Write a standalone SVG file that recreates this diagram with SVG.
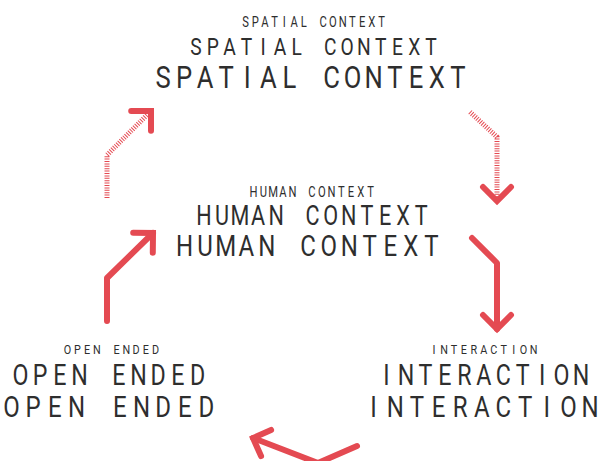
<svg xmlns="http://www.w3.org/2000/svg" width="600" height="461" viewBox="0 0 600 461">
  <style>
    text { font-family: Roboto, "Liberation Sans", sans-serif; fill: #2e2e2e; text-anchor: middle; }
    .narrow { transform: scale(0.8, 1); }
    .solid { fill: none; stroke: #e44a52; stroke-width: 6; stroke-linecap: round; stroke-linejoin: round; }
    .hatch { fill: none; stroke: #e44a52; stroke-width: 5; stroke-dasharray: 1 1.4; stroke-linejoin: miter; }
  </style>
  <defs>
    <marker id="head" markerUnits="userSpaceOnUse" markerWidth="40" markerHeight="40" refX="20" refY="20" orient="auto" overflow="visible">
      <path d="M6,6 L20,20 L6,34" fill="none" stroke="#e44a52" stroke-width="6" stroke-linecap="round" stroke-linejoin="miter"/>
    </marker>
  </defs>

  <g id="connectors">
    <path class="hatch" d="M107,198 L107,155 L151,111" marker-end="url(#head)"/>
    <path class="hatch" d="M470,112 L497,137 L497,201" marker-end="url(#head)"/>
    <path class="solid" d="M472,238 L497,263 L497,329" marker-end="url(#head)"/>
    <path class="solid" d="M357,446 L318,463 L253,438" marker-end="url(#head)"/>
    <path class="solid" d="M107,321 L107,278 L153,233" marker-end="url(#head)"/>
  </g>

  <!-- labels are condensed to 80% width; x lists give each glyph centre on a fixed pitch (in condensed units) -->
  <g id="spatial-context" class="narrow">
    <text font-size="14" y="27" x="306.9 319 331.1 343.3 355.5 367.6 379.8 391.9 404 416.1 428.3 440.5 452.6 464.8 476.9">SPATIAL CONTEXT</text>
    <text font-size="24" y="55" x="245 266 287 308 328.9 349.9 370.9 391.9 412.9 433.9 454.9 475.8 496.8 517.8 538.8">SPATIAL CONTEXT</text>
    <text font-size="32" y="88" x="203.8 230.1 256.4 282.8 309.1 335.5 361.8 388.1 414.5 440.8 467.1 493.5 519.9 546.1 572.5">SPATIAL CONTEXT</text>
  </g>

  <g id="human-context" class="narrow">
    <text font-size="14" y="197" x="316.9 329.1 341.3 353.5 365.6 377.9 390 402.3 414.4 426.6 438.8 451 463.1">HUMAN CONTEXT</text>
    <text font-size="27" y="225" x="254.8 277.4 300 322.6 345.4 368 390.6 413.3 436 458.6 481.3 503.9 526.6">HUMAN CONTEXT</text>
    <text font-size="30" y="256" x="230.6 256.4 282.1 307.9 333.5 359.3 385 410.8 436.5 462.1 487.9 513.6 539.4">HUMAN CONTEXT</text>
  </g>

  <g id="open-ended" class="narrow">
    <text font-size="13.5" y="354" x="84.5 96.8 109 121.1 133.4 145.6 157.9 170 182.3 194.5">OPEN ENDED</text>
    <text font-size="29" y="385.5" x="25.5 50.1 74.8 99.4 124 148.6 173.1 197.8 222.4 247">OPEN ENDED</text>
    <text font-size="30" y="417.5" x="14.4 41.5 68.5 95.6 122.8 149.8 176.9 204 231 258.1">OPEN ENDED</text>
  </g>

  <g id="interaction" class="narrow">
    <text font-size="13.5" y="354" x="542.5 555 567.4 579.9 592.3 604.8 617.3 629.6 642.1 654.5 667">INTERACTION</text>
    <text font-size="29" y="385.5" x="483.1 507.5 531.8 556.1 580.4 604.8 629 653.4 677.6 702 726.3">INTERACTION</text>
    <text font-size="30" y="417.5" x="466.9 494 521 548.1 575.1 602.3 629.3 656.4 683.4 710.5 737.5">INTERACTION</text>
  </g>
</svg>
